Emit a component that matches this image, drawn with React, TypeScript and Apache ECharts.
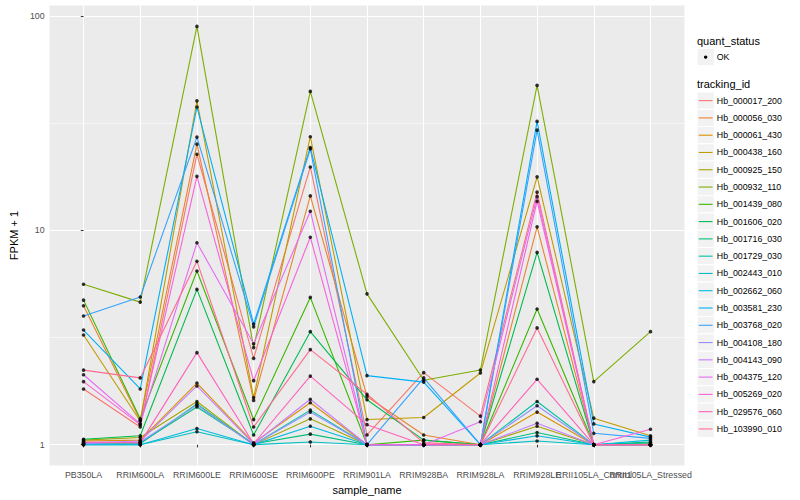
import React, { useEffect, useRef } from "react";
import * as echarts from "echarts";

// ---- data ----
const sampleNames = [
  "PB350LA",
  "RRIM600LA",
  "RRIM600LE",
  "RRIM600SE",
  "RRIM600PE",
  "RRIM901LA",
  "RRIM928BA",
  "RRIM928LA",
  "RRIM928LE",
  "RRII105LA_Control",
  "RRII105LA_Stressed",
];

const trackingIds = [
  "Hb_000017_200",
  "Hb_000056_030",
  "Hb_000061_430",
  "Hb_000438_160",
  "Hb_000925_150",
  "Hb_000932_110",
  "Hb_001439_080",
  "Hb_001606_020",
  "Hb_001716_030",
  "Hb_001729_030",
  "Hb_002443_010",
  "Hb_002662_060",
  "Hb_003581_230",
  "Hb_003768_020",
  "Hb_004108_180",
  "Hb_004143_090",
  "Hb_004375_120",
  "Hb_005269_020",
  "Hb_029576_060",
  "Hb_103990_010",
];

// FPKM + 1 per sample (same order as sampleNames)
const hb000017_200 = [1.82, 1.21, 22.7, 2.53, 19.8, 1.11, 2.17, 1.36, 15.1, 1.0, 1.0];
const hb000056_030 = [4.45, 1.3, 25.3, 1.61, 14.5, 1.68, 1.11, 1.0, 10.4, 1.0, 1.0];
const hb000061_430 = [1.04, 1.05, 1.94, 1.02, 1.57, 1.0, 1.0, 1.0, 1.42, 1.0, 1.01];
const hb000438_160 = [3.25, 1.29, 40.3, 1.66, 27.4, 1.31, 1.34, 2.16, 17.8, 1.33, 1.1];
const hb000925_150 = [1.05, 1.08, 1.59, 1.0, 1.32, 1.0, 1.0, 1.0, 1.22, 1.0, 1.0];
const hb000932_110 = [5.61, 4.63, 89.7, 2.84, 44.6, 5.06, 2.0, 2.23, 47.6, 1.97, 3.37];
const hb001439_080 = [4.73, 1.32, 6.47, 1.31, 4.87, 1.0, 1.05, 1.0, 4.3, 1.0, 1.0];
const hb001606_020 = [1.06, 1.1, 5.31, 1.11, 3.37, 1.62, 1.05, 1.0, 7.9, 1.0, 1.03];
const hb001716_030 = [1.02, 1.02, 1.5, 1.01, 1.12, 1.0, 1.0, 1.0, 1.14, 1.0, 1.0];
const hb001729_030 = [1.01, 1.01, 1.55, 1.0, 1.45, 1.0, 1.0, 1.0, 1.59, 1.0, 1.02];
const hb002443_010 = [1.0, 1.0, 1.15, 1.0, 1.03, 1.0, 1.0, 1.0, 1.04, 1.0, 1.0];
const hb002662_060 = [1.0, 1.0, 1.19, 1.0, 1.22, 1.0, 1.0, 1.0, 1.1, 1.0, 1.05];
const hb003581_230 = [3.43, 1.82, 37.7, 3.66, 24.4, 2.1, 1.96, 1.0, 32.3, 1.25, 1.085];
const hb003768_020 = [3.99, 4.89, 27.3, 3.55, 24.0, 1.0, 2.05, 1.0, 29.4, 1.13, 1.07];
const hb004108_180 = [1.01, 1.03, 1.53, 1.0, 1.42, 1.0, 1.0, 1.0, 1.52, 1.0, 1.0];
const hb004143_090 = [1.02, 1.04, 1.88, 1.01, 1.63, 1.0, 1.0, 1.0, 1.26, 1.0, 1.0];
const hb004375_120 = [2.12, 1.25, 8.77, 2.96, 12.3, 1.0, 1.0, 1.28, 14.4, 1.0, 1.0];
const hb005269_020 = [1.97, 1.24, 17.9, 1.99, 9.3, 1.0, 1.0, 1.0, 13.7, 1.0, 1.18];
const hb029576_060 = [1.03, 1.02, 2.69, 1.01, 2.09, 1.24, 1.0, 1.0, 2.02, 1.0, 1.0];
const hb103990_010 = [2.23, 2.05, 7.18, 1.21, 2.78, 1.72, 1.02, 1.0, 3.51, 1.0, 1.0];

const seriesValues = [
  hb000017_200,
  hb000056_030,
  hb000061_430,
  hb000438_160,
  hb000925_150,
  hb000932_110,
  hb001439_080,
  hb001606_020,
  hb001716_030,
  hb001729_030,
  hb002443_010,
  hb002662_060,
  hb003581_230,
  hb003768_020,
  hb004108_180,
  hb004143_090,
  hb004375_120,
  hb005269_020,
  hb029576_060,
  hb103990_010,
];

const quantStatusLevels = ["OK"];
const yTickValues = [1, 10, 100];
const yMinorValues = [Math.sqrt(10), Math.sqrt(1000)];

// ggplot hue palette (20 levels)
const lineColors = [
  "#F8766D", "#EA8331", "#D89000", "#C09B00", "#A3A500",
  "#7CAE00", "#39B600", "#00BB4E", "#00BF7D", "#00C1A3",
  "#00BFC4", "#00BAE0", "#00B0F6", "#35A2FF", "#9590FF",
  "#C77CFF", "#E76BF3", "#FA62DB", "#FF62BC", "#FF6C91",
];

const FONT = "'Liberation Sans', Arial, Helvetica, sans-serif";

export default function App() {
  const ref = useRef<HTMLDivElement | null>(null);

  useEffect(() => {
    if (!ref.current) return;
    const chart = echarts.init(ref.current, undefined, { renderer: "svg" });

    const logs = seriesValues.map((arr) => arr.map((v) => Math.log10(v)));
    const flat = logs.flat();
    const lo = Math.min(...flat);
    const hi = Math.max(...flat);
    const pad = (hi - lo) * 0.05;
    const yMin = lo - pad;
    const yMax = hi + pad;
    const xMin = -0.6;
    const xMax = sampleNames.length - 1 + 0.6;
    const xTicks = sampleNames.map((_, i) => i);
    const xEven = xTicks.filter((i) => i % 2 === 0);
    const xOdd = xTicks.filter((i) => i % 2 === 1);
    const yTicks = yTickValues.map((v) => Math.log10(v));
    const yMinor = yMinorValues.map((v) => Math.log10(v));

    const panelLeft = 39.8;
    const panelRight = 684.5;
    const panelTop = 5.5;
    const panelBottom = 468.8;

    const lineSeries = logs.map((arr, i) => ({
      type: "line",
      name: trackingIds[i],
      data: arr.map((v, j) => [j, v]),
      showSymbol: false,
      symbol: "none",
      silent: true,
      lineStyle: { color: lineColors[i], width: 1.1 },
      itemStyle: { color: lineColors[i] },
      z: 2,
    }));

    const points: number[][] = [];
    logs.forEach((arr) => arr.forEach((v, j) => points.push([j, v])));

    // legend (ggplot style) drawn with graphic elements
    const legendX = 697;
    const key = 17.28;
    const graphic: any[] = [];
    graphic.push({
      type: "text",
      x: legendX,
      y: 40.5,
      style: { text: "quant_status", fontSize: 11, fill: "#000000", fontFamily: FONT, verticalAlign: "middle", align: "left" },
    });
    quantStatusLevels.forEach((lvl, i) => {
      const top = 48.5 + i * key;
      graphic.push({
        type: "rect",
        shape: { x: legendX, y: top, width: key, height: key },
        style: { fill: "#F2F2F2", stroke: "#FFFFFF", lineWidth: 1 },
      });
      graphic.push({
        type: "circle",
        shape: { cx: legendX + key / 2, cy: top + key / 2, r: 1.7 },
        style: { fill: "#000000" },
      });
      graphic.push({
        type: "text",
        x: legendX + key + 2.5,
        y: top + key / 2,
        style: { text: lvl, fontSize: 8.8, fill: "#000000", fontFamily: FONT, verticalAlign: "middle", align: "left" },
      });
    });
    graphic.push({
      type: "text",
      x: legendX,
      y: 84,
      style: { text: "tracking_id", fontSize: 11, fill: "#000000", fontFamily: FONT, verticalAlign: "middle", align: "left" },
    });
    trackingIds.forEach((id, i) => {
      const top = 92 + i * key;
      graphic.push({
        type: "rect",
        shape: { x: legendX, y: top, width: key, height: key },
        style: { fill: "#F2F2F2", stroke: "#FFFFFF", lineWidth: 1 },
      });
      graphic.push({
        type: "line",
        shape: { x1: legendX + 1.7, y1: top + key / 2, x2: legendX + key - 1.7, y2: top + key / 2 },
        style: { stroke: lineColors[i], lineWidth: 1.1 },
      });
      graphic.push({
        type: "text",
        x: legendX + key + 2.5,
        y: top + key / 2,
        style: { text: id, fontSize: 8.8, fill: "#000000", fontFamily: FONT, verticalAlign: "middle", align: "left" },
      });
    });

    const xLabelBase = {
      formatter: (v: number) => sampleNames[Math.round(v)] ?? "",
      color: "#4D4D4D",
      fontSize: 8.8,
      fontFamily: FONT,
      margin: 4.5,
      hideOverlap: false,
      showMinLabel: true,
      showMaxLabel: true,
    };

    const option: any = {
      animation: false,
      backgroundColor: "#FFFFFF",
      grid: {
        left: panelLeft,
        right: 800 - panelRight,
        top: panelTop,
        bottom: 500 - panelBottom,
        show: true,
        backgroundColor: "#EBEBEB",
        borderWidth: 0,
        containLabel: false,
      },
      xAxis: [
        {
          type: "value",
          min: xMin,
          max: xMax,
          position: "bottom",
          name: "sample_name",
          nameLocation: "middle",
          nameGap: 17,
          nameTextStyle: { fontSize: 11, color: "#000000", fontFamily: FONT },
          axisLine: { show: false },
          axisTick: {
            show: true,
            length: 2.75,
            customValues: xTicks,
            lineStyle: { color: "#333333", width: 1 },
          },
          axisLabel: { ...xLabelBase, customValues: xEven },
          splitLine: { show: true, customValues: xTicks, lineStyle: { color: "#FFFFFF", width: 1.1 } },
        },
        {
          type: "value",
          min: xMin,
          max: xMax,
          position: "bottom",
          offset: 0,
          axisLine: { show: false },
          axisTick: { show: false, customValues: xOdd },
          axisLabel: { ...xLabelBase, customValues: xOdd },
          splitLine: { show: false },
        },
      ],
      yAxis: [
        {
          type: "value",
          min: yMin,
          max: yMax,
          name: "FPKM + 1",
          nameLocation: "middle",
          nameGap: 27.5,
          nameRotate: 90,
          nameTextStyle: { fontSize: 11, color: "#000000", fontFamily: FONT },
          axisLine: { show: false },
          axisTick: {
            show: true,
            length: 2.75,
            customValues: yTicks,
            lineStyle: { color: "#333333", width: 1 },
          },
          axisLabel: {
            customValues: yTicks,
            formatter: (v: number) => String(Math.round(Math.pow(10, v))),
            color: "#4D4D4D",
            fontSize: 8.8,
            fontFamily: FONT,
            margin: 4.95,
            showMinLabel: true,
            showMaxLabel: true,
          },
          splitLine: { show: true, customValues: yTicks, lineStyle: { color: "#FFFFFF", width: 1.1 } },
        },
        {
          type: "value",
          min: yMin,
          max: yMax,
          position: "left",
          axisLine: { show: false },
          axisTick: { show: false, customValues: yMinor },
          axisLabel: { show: false, customValues: yMinor },
          splitLine: { show: true, customValues: yMinor, lineStyle: { color: "#FFFFFF", width: 0.55 } },
        },
      ],
      series: [
        ...lineSeries,
        {
          type: "scatter",
          name: "points",
          data: points,
          symbol: "circle",
          symbolSize: 3.6,
          silent: true,
          itemStyle: { color: "#000000" },
          z: 3,
        },
      ],
      graphic,
    };

    chart.setOption(option);
    return () => chart.dispose();
  }, []);

  return (
    <div
      ref={ref}
      style={{ position: "absolute", left: 0, top: 0, width: 800, height: 500, background: "#FFFFFF" }}
    />
  );
}
